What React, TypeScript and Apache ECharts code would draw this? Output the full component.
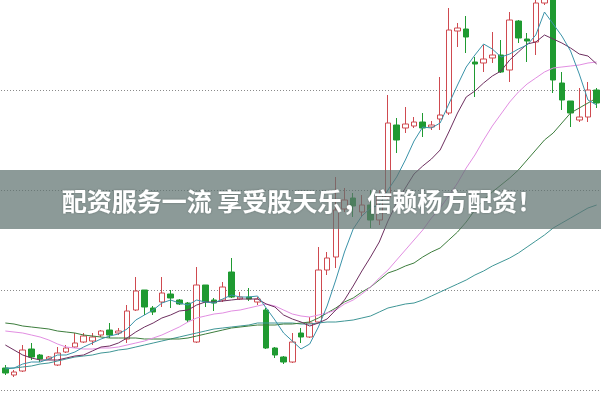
import React, { useEffect, useRef } from "react";
import * as echarts from "echarts";

// 69 trading days
const categories: string[] = [
  "D1","D2","D3","D4","D5","D6","D7","D8","D9","D10",
  "D11","D12","D13","D14","D15","D16","D17","D18","D19","D20",
  "D21","D22","D23","D24","D25","D26","D27","D28","D29","D30",
  "D31","D32","D33","D34","D35","D36","D37","D38","D39","D40",
  "D41","D42","D43","D44","D45","D46","D47","D48","D49","D50",
  "D51","D52","D53","D54","D55","D56","D57","D58","D59","D60",
  "D61","D62","D63","D64","D65","D66","D67","D68","D69",
];

// [open, close, low, high]
const candles: number[][] = [
  [10.22, 10.17, 10.15, 10.25],
  [10.15, 10.18, 10.13, 10.2],
  [10.19, 10.4, 10.18, 10.45],
  [10.41, 10.33, 10.3, 10.47],
  [10.35, 10.31, 10.28, 10.36],
  [10.31, 10.33, 10.3, 10.34],
  [10.25, 10.37, 10.24, 10.43],
  [10.38, 10.42, 10.37, 10.45],
  [10.43, 10.47, 10.42, 10.57],
  [10.48, 10.54, 10.47, 10.57],
  [10.49, 10.53, 10.45, 10.57],
  [10.55, 10.59, 10.53, 10.6],
  [10.6, 10.55, 10.52, 10.67],
  [10.57, 10.59, 10.55, 10.62],
  [10.51, 10.79, 10.47, 10.85],
  [10.8, 10.99, 10.79, 11.13],
  [11.0, 10.83, 10.75, 11.0],
  [10.82, 10.78, 10.75, 10.84],
  [10.88, 10.97, 10.83, 11.13],
  [10.96, 10.92, 10.82, 11.0],
  [10.9, 10.86, 10.85, 10.91],
  [10.87, 10.7, 10.68, 10.88],
  [10.48, 11.05, 10.47, 11.23],
  [11.05, 10.88, 10.83, 11.05],
  [10.9, 10.87, 10.79, 10.92],
  [10.9, 11.03, 10.88, 11.08],
  [11.18, 10.93, 10.92, 11.32],
  [10.91, 10.93, 10.9, 10.98],
  [10.93, 10.91, 10.89, 11.02],
  [10.88, 10.91, 10.85, 10.93],
  [10.8, 10.42, 10.41, 10.82],
  [10.42, 10.35, 10.32, 10.43],
  [10.33, 10.28, 10.26, 10.34],
  [10.28, 10.48, 10.27, 10.57],
  [10.57, 10.53, 10.47, 10.62],
  [10.53, 10.67, 10.52, 10.73],
  [10.68, 11.2, 10.67, 11.43],
  [11.2, 11.32, 11.15, 11.38],
  [11.33, 11.8, 11.22, 12.13],
  [11.81, 11.9, 11.78, 12.02],
  [11.92, 11.84, 11.73, 11.97],
  [11.78, 11.85, 11.73, 11.95],
  [11.85, 11.7, 11.62, 12.0],
  [11.7, 11.95, 11.65, 12.0],
  [11.93, 12.67, 11.9, 12.95],
  [12.65, 12.5, 12.37, 12.72],
  [12.62, 12.66, 12.57, 12.83],
  [12.64, 12.68, 12.62, 12.73],
  [12.68, 12.62, 12.53, 12.77],
  [12.63, 12.65, 12.6, 12.69],
  [12.71, 12.75, 12.6, 13.13],
  [12.77, 13.6, 12.75, 13.82],
  [13.59, 13.62, 13.43, 13.67],
  [13.61, 13.53, 13.37, 13.74],
  [13.28, 13.26, 12.93, 13.33],
  [13.27, 13.31, 13.18, 13.45],
  [13.32, 13.35, 13.27, 13.58],
  [13.35, 13.18, 13.17, 13.5],
  [13.2, 13.7, 13.08, 13.78],
  [13.69, 13.52, 13.47, 13.7],
  [13.51, 13.49, 13.28, 13.57],
  [13.48, 13.87, 13.35, 13.95],
  [13.87, 14.32, 13.85, 14.45],
  [14.3, 13.1, 12.97, 14.4],
  [13.07, 12.9, 12.8, 13.18],
  [12.89, 12.77, 12.63, 12.89],
  [12.7, 12.73, 12.68, 13.02],
  [12.73, 13.0, 12.68, 13.08],
  [13.0, 12.87, 12.82, 13.02],
];

const ma5: number[] = [
  10.22, 10.22, 10.26, 10.28, 10.28, 10.31, 10.35, 10.35, 10.38, 10.43,
  10.47, 10.51, 10.54, 10.56, 10.61, 10.7, 10.75, 10.8, 10.87, 10.9,
  10.87, 10.85, 10.9, 10.88, 10.87, 10.91, 10.95, 10.93, 10.93, 10.94,
  10.82, 10.7, 10.57, 10.49, 10.41, 10.46, 10.63, 10.84, 11.1, 11.38,
  11.61, 11.74, 11.82, 11.85, 12.0, 12.13, 12.3, 12.49, 12.63, 12.62,
  12.67, 12.86, 13.05, 13.23, 13.35, 13.46, 13.41, 13.33, 13.36, 13.41,
  13.45, 13.55, 13.78, 13.66, 13.54, 13.39, 13.16, 12.9, 12.85,
];

const ma10: number[] = [
  10.45, 10.4, 10.35, 10.32, 10.3, 10.3, 10.3, 10.32, 10.34, 10.35,
  10.39, 10.43, 10.44, 10.47, 10.52, 10.58, 10.63, 10.67, 10.72, 10.75,
  10.79, 10.8, 10.85, 10.88, 10.88, 10.89, 10.9, 10.91, 10.91, 10.91,
  10.86, 10.83, 10.75, 10.71, 10.68, 10.64, 10.67, 10.71, 10.8, 10.9,
  11.04, 11.19, 11.33, 11.48, 11.69, 11.87, 12.02, 12.16, 12.24, 12.31,
  12.4, 12.58, 12.77, 12.93, 12.99, 13.07, 13.14, 13.19, 13.3, 13.38,
  13.46, 13.48, 13.55, 13.51, 13.47, 13.42, 13.36, 13.34, 13.26,
];

const ma20: number[] = [
  10.59, 10.58, 10.57, 10.55, 10.53, 10.5, 10.46, 10.43, 10.42, 10.41,
  10.41, 10.42, 10.42, 10.43, 10.45, 10.47, 10.49, 10.52, 10.55, 10.59,
  10.63, 10.68, 10.72, 10.74, 10.76, 10.77, 10.79, 10.8, 10.82, 10.84,
  10.86, 10.84, 10.8, 10.76, 10.74, 10.73, 10.75, 10.77, 10.8, 10.86,
  10.9, 10.96, 11.03, 11.12, 11.2, 11.3, 11.4, 11.5, 11.6, 11.72,
  11.82, 11.94, 12.07, 12.22, 12.35, 12.5, 12.64, 12.76, 12.88, 12.98,
  13.06, 13.12, 13.18, 13.22, 13.23, 13.24, 13.25, 13.27, 13.28,
];

const ma30: number[] = [
  10.67, 10.66, 10.64, 10.63, 10.62, 10.61, 10.59, 10.58, 10.57, 10.55,
  10.54, 10.53, 10.52, 10.52, 10.52, 10.52, 10.51, 10.51, 10.51, 10.51,
  10.51, 10.52, 10.54, 10.56, 10.58, 10.6, 10.62, 10.63, 10.64, 10.65,
  10.65, 10.65, 10.66, 10.66, 10.67, 10.68, 10.72, 10.77, 10.82, 10.88,
  10.92, 10.98, 11.03, 11.1, 11.17, 11.2, 11.24, 11.27, 11.33, 11.38,
  11.42, 11.5, 11.58, 11.68, 11.8, 11.9, 11.98, 12.05, 12.12, 12.2,
  12.3, 12.4, 12.5, 12.57, 12.67, 12.77, 12.82, 12.87, 12.92,
];

const ma60: number[] = [
  10.21, 10.22, 10.23, 10.24, 10.26, 10.27, 10.29, 10.31, 10.33, 10.34,
  10.35, 10.37, 10.38, 10.4, 10.41, 10.43, 10.45, 10.47, 10.49, 10.51,
  10.53, 10.55, 10.57, 10.59, 10.61, 10.62, 10.63, 10.64, 10.65, 10.67,
  10.67, 10.67, 10.67, 10.67, 10.66, 10.66, 10.67, 10.68, 10.68, 10.69,
  10.7, 10.72, 10.74, 10.78, 10.82, 10.84, 10.86, 10.87, 10.9, 10.94,
  10.98, 11.02, 11.06, 11.1, 11.15, 11.19, 11.24, 11.28, 11.32, 11.37,
  11.43, 11.49, 11.55, 11.62, 11.67, 11.72, 11.77, 11.82, 11.85,
];

// price levels of the dotted grid lines
const gridLevels: number[] = [10, 11, 12, 13];

const bannerText = "配资服务一流 享受股天乐，信赖杨方配资！";

export default function App() {
  const ref = useRef<HTMLDivElement>(null);
  useEffect(() => {
    const chart = echarts.init(ref.current!, null, { renderer: "svg" });
    const line = (name: string, data: number[], color: string) => ({
      name,
      type: "line",
      data,
      symbol: "none",
      showSymbol: false,
      lineStyle: { width: 1, color },
      itemStyle: { color },
      z: 3,
    });
    chart.setOption({
      animation: false,
      backgroundColor: "#ffffff",
      grid: { left: 1, right: 0, top: 0, bottom: 0 },
      xAxis: {
        type: "category",
        data: categories,
        boundaryGap: true,
        show: false,
      },
      yAxis: {
        type: "value",
        min: 9.89,
        max: 13.9,
        show: false,
        splitLine: { show: false },
      },
      series: [
        {
          type: "candlestick",
          data: candles,
          barWidth: 6,
          itemStyle: {
            color: "#ffffff",
            color0: "#1f9a31",
            borderColor: "#cf4a50",
            borderColor0: "#1f9a31",
            borderWidth: 1,
          },
          markLine: {
            silent: true,
            symbol: ["none", "none"],
            label: { show: false },
            lineStyle: { color: "#8a8a8a", type: [1, 2], width: 1 },
            data: gridLevels.map((v) => ({ yAxis: v })),
            z: 1,
          },
          z: 2,
        },
        line("MA60", ma60, "#3f9696"),
        line("MA30", ma30, "#3d7d3d"),
        line("MA20", ma20, "#e28ee2"),
        line("MA10", ma10, "#6e2f60"),
        line("MA5", ma5, "#3b93a9"),
      ],
      graphic: [
        {
          type: "rect",
          left: 0,
          top: 170,
          shape: { width: 601, height: 59 },
          style: { fill: "rgba(96,115,112,0.72)" },
          z: 100,
        },
        {
          type: "text",
          x: 302,
          y: 200,
          style: {
            text: bannerText,
            fill: "#ffffff",
            fontSize: 25,
            fontWeight: "bold",
            fontFamily: '"Noto Sans CJK SC", sans-serif',
            align: "center",
            verticalAlign: "middle",
            textShadowColor: "rgba(0,0,0,0.25)",
            textShadowBlur: 2,
          },
          z: 101,
        },
      ],
    });
    return () => chart.dispose();
  }, []);
  return (
    <div
      ref={ref}
      style={{ position: "fixed", left: 0, top: 0, width: 601, height: 401, background: "#fff" }}
    />
  );
}
